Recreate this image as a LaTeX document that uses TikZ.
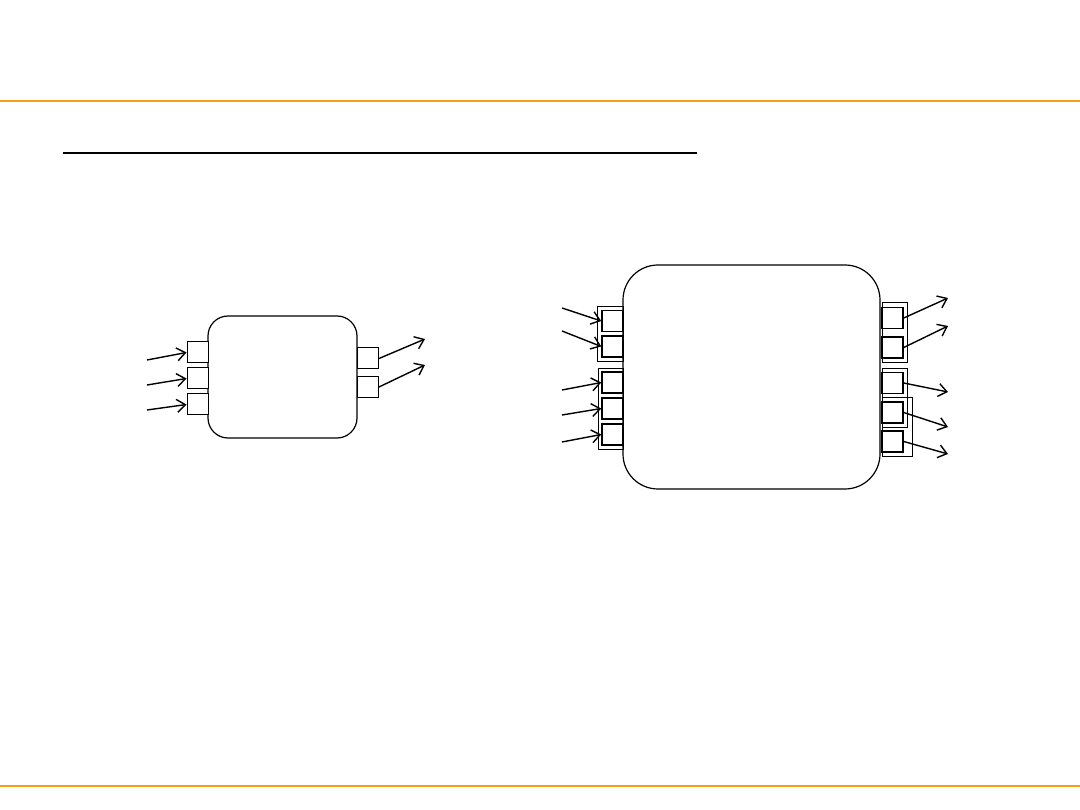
\documentclass[tikz,border=0pt]{standalone}
\usepackage{xcolor}
\usepackage{tikz}
\usetikzlibrary{positioning,arrows.meta}

\definecolor{barorange}{RGB}{245,160,20}

\begin{document}
\begin{tikzpicture}[
  x=1pt, y=-1pt,
  body/.style={draw, line width=1.2pt, fill=white, inner sep=0pt},
  port/.style={draw, line width=1pt, fill=white, minimum width=21pt, minimum height=21pt, inner sep=0pt},
  bigport/.style={port, line width=1.5pt},
  grp/.style={draw, line width=0.9pt, inner sep=0pt},
  arr/.style={-{Straight Barb[length=8.5pt,width=13pt]}, line width=1.4pt}
]
\useasboundingbox (0,0) rectangle (1080,810);
% frame rules
\draw[barorange, line width=2pt] (0,101) -- (1080,101);
\draw[barorange, line width=2pt] (0,786) -- (1080,786);
\draw[line width=2pt] (63,153) -- (697,153);

% small component
\node[body, rounded corners=20pt, minimum width=149pt, minimum height=122pt] (small) at (282.5,377) {};
\foreach \n/\y/\sy in {1/352.5/360, 2/378.5/385, 3/404.5/410} {
  \node[port] (sin\n) at (197.5,\y) {};
  \coordinate (sfrom\n) at (147,\sy);
  \draw[arr] (sfrom\n) -- (sin\n.west);
}
\foreach \n/\y/\ty in {1/358.5/339, 2/387/365} {
  \node[port] (sout\n) at (368,\y) {};
  \coordinate (sto\n) at (425,\ty);
  \draw[arr] (sout\n.east) -- (sto\n);
}

% big component
\node[body, rounded corners=35pt, minimum width=257pt, minimum height=224pt] (big) at (751.5,377) {};
\node[grp, minimum width=26pt, minimum height=55pt] (lgrp1) at (610,333.5) {};
\node[grp, minimum width=25pt, minimum height=81pt] (lgrp2) at (610.5,408.5) {};
\node[grp, minimum width=25pt, minimum height=60pt] (rgrp1) at (894.5,332) {};
\node[grp, minimum width=25pt, minimum height=59pt] (rgrp2) at (894.5,397.5) {};
\node[grp, minimum width=30pt, minimum height=59pt] (rgrp3) at (897,426.5) {};
\foreach \n/\y/\fy in {1/321/308, 2/346.5/331, 3/382.5/390, 4/408.5/415, 5/434.5/442} {
  \node[bigport] (bin\n) at (612.5,\y) {};
  \coordinate (bfrom\n) at (562,\fy);
  \draw[arr] (bfrom\n) -- (bin\n.west);
}
\foreach \n/\y/\ty in {1/318/298, 2/347.5/326, 3/383/392, 4/412.5/427, 5/441.5/454} {
  \node[bigport] (bout\n) at (892.5,\y) {};
  \coordinate (bto\n) at (948,\ty);
  \draw[arr] (bout\n.east) -- (bto\n);
}
\end{tikzpicture}
\end{document}
